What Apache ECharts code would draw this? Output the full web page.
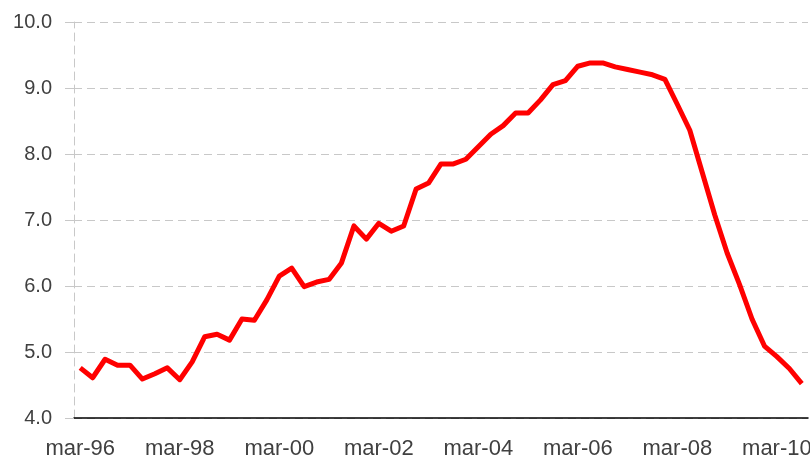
<!DOCTYPE html>
<html>
<head>
<meta charset="utf-8">
<script src="https://cdn.jsdelivr.net/npm/echarts@6/dist/echarts.min.js"></script>
<style>
  html, body { margin: 0; padding: 0; background: #fff; }
  #chart { width: 810px; height: 457px; }
</style>
</head>
<body>
<div id="chart"></div>
<script>
// quarterly labels mar-96 .. sep-10
const months = ['mar', 'jun', 'sep', 'dic']
const categories = []
for (let y = 1996; y <= 2010; y++) {
  months.forEach((m, q) => {
    if (y === 2010 && q > 2) return
    categories.push(m + '-' + String(y).slice(2))
  })
}

const values = [
  4.76, 4.61, 4.89, 4.80, 4.80, 4.59, 4.67, 4.76, 4.58, 4.85,
  5.23, 5.27, 5.18, 5.50, 5.48, 5.79, 6.15, 6.27, 5.99, 6.06,
  6.10, 6.35, 6.91, 6.71, 6.95, 6.83, 6.91, 7.47, 7.56, 7.85,
  7.85, 7.92, 8.11, 8.30, 8.43, 8.62, 8.62, 8.82, 9.05, 9.11,
  9.33, 9.38, 9.38, 9.32, 9.28, 9.24, 9.20, 9.13, 8.75, 8.36,
  7.72, 7.08, 6.50, 6.02, 5.50, 5.09, 4.93, 4.75, 4.52
]

const yMin = 4
const yMax = 10
const yStep = 1

const chart = echarts.init(document.getElementById('chart'), null, { renderer: 'canvas' })

chart.setOption({
  animation: false,
  backgroundColor: '#fff',
  grid: { left: 74, right: 2, top: 22, bottom: 39, containLabel: false, outerBoundsMode: 'none' },
  xAxis: {
    type: 'category',
    data: categories,
    boundaryGap: true,
    axisLine: { lineStyle: { color: '#000', width: 1.5 } },
    axisTick: { interval: 7, length: 6, lineStyle: { color: '#000' } },
    axisLabel: {
      interval: 7,
      margin: 20,
      color: '#404040',
      fontFamily: 'Liberation Sans, Arial, sans-serif',
      fontSize: 22
    },
    splitLine: { show: false }
  },
  yAxis: {
    type: 'value',
    min: yMin,
    max: yMax,
    interval: yStep,
    axisLine: { show: true, lineStyle: { color: '#c8c8c8', type: [8, 5] } },
    axisTick: { show: true, length: 9, lineStyle: { color: '#c8c8c8' } },
    axisLabel: {
      margin: 22,
      color: '#404040',
      fontFamily: 'Liberation Sans, Arial, sans-serif',
      fontSize: 20,
      formatter: v => v.toFixed(1)
    },
    splitLine: { show: true, lineStyle: { color: '#c8c8c8', type: [8, 5] } }
  },
  series: [{
    type: 'line',
    data: values,
    symbol: 'none',
    lineStyle: { color: '#ff0000', width: 5, join: 'round' },
    itemStyle: { color: '#ff0000' }
  }]
})
</script>
</body>
</html>
